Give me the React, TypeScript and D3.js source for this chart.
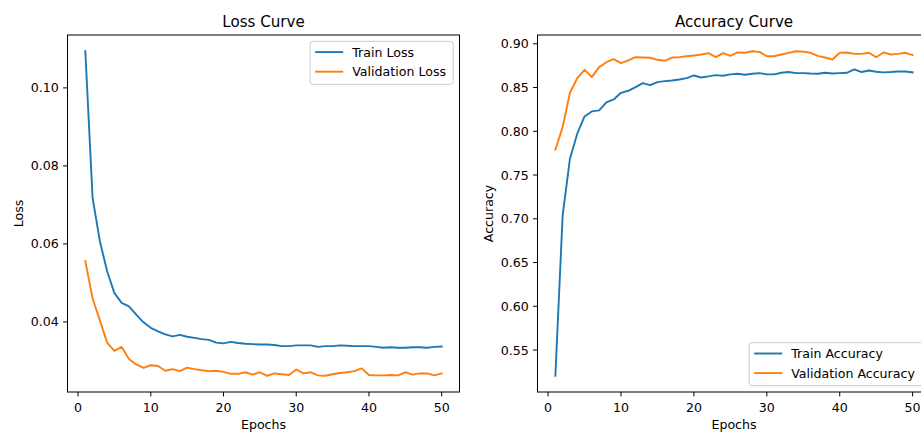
import React from "react";
import * as d3 from "d3";

const epochs: number[] = Array.from({ length: 50 }, (_, i) => i + 1);

const trainLoss: number[] = [
  0.1094, 0.0718, 0.0607, 0.0530, 0.0474, 0.0449, 0.0440, 0.0419, 0.0399, 0.0385,
  0.0376, 0.0368, 0.0363, 0.0367, 0.0362, 0.0359, 0.0356, 0.0354, 0.0347, 0.0345,
  0.0349, 0.0346, 0.0344, 0.0343, 0.0342, 0.0342, 0.0341, 0.0338, 0.0338, 0.0340,
  0.0340, 0.0340, 0.0336, 0.0338, 0.0338, 0.0340, 0.0339, 0.0338, 0.0338, 0.0338,
  0.0336, 0.0334, 0.0335, 0.0334, 0.0334, 0.0335, 0.0335, 0.0334, 0.0336, 0.0337,
];

const valLoss: number[] = [
  0.0556, 0.0460, 0.0404, 0.0347, 0.0326, 0.0336, 0.0305, 0.0291, 0.0282, 0.0289,
  0.0287, 0.0275, 0.0279, 0.0274, 0.0283, 0.0279, 0.0276, 0.0274, 0.0275, 0.0272,
  0.0267, 0.0267, 0.0271, 0.0265, 0.0271, 0.0262, 0.0268, 0.0266, 0.0264, 0.0278,
  0.0268, 0.0271, 0.0263, 0.0262, 0.0266, 0.0269, 0.0271, 0.0274, 0.0281, 0.0264,
  0.0263, 0.0263, 0.0264, 0.0263, 0.0271, 0.0265, 0.0268, 0.0268, 0.0263, 0.0268,
];

const trainAcc: number[] = [
  0.5206, 0.7040, 0.7687, 0.7973, 0.8170, 0.8227, 0.8239, 0.8330, 0.8364, 0.8440,
  0.8463, 0.8505, 0.8550, 0.8527, 0.8562, 0.8573, 0.8581, 0.8592, 0.8607, 0.8638,
  0.8615, 0.8627, 0.8642, 0.8635, 0.8650, 0.8657, 0.8646, 0.8657, 0.8665, 0.8650,
  0.8650, 0.8669, 0.8677, 0.8665, 0.8665, 0.8660, 0.8657, 0.8669, 0.8660, 0.8665,
  0.8669, 0.8707, 0.8677, 0.8695, 0.8680, 0.8673, 0.8677, 0.8684, 0.8684, 0.8673,
];

const valAcc: number[] = [
  0.7790, 0.8048, 0.8440, 0.8607, 0.8703, 0.8619, 0.8733, 0.8790, 0.8824, 0.8779,
  0.8810, 0.8847, 0.8843, 0.8840, 0.8817, 0.8806, 0.8843, 0.8847, 0.8858, 0.8866,
  0.8878, 0.8893, 0.8847, 0.8893, 0.8862, 0.8901, 0.8897, 0.8915, 0.8908, 0.8858,
  0.8858, 0.8878, 0.8897, 0.8915, 0.8910, 0.8897, 0.8862, 0.8843, 0.8820, 0.8897,
  0.8901, 0.8885, 0.8885, 0.8897, 0.8847, 0.8901, 0.8878, 0.8885, 0.8897, 0.8870,
];

const xTicks: number[] = [0, 10, 20, 30, 40, 50];
const lossTicks: number[] = [0.04, 0.06, 0.08, 0.10];
const accTicks: number[] = [0.55, 0.6, 0.65, 0.7, 0.75, 0.8, 0.85, 0.9];

const BLUE = "#1f77b4";
const ORANGE = "#ff7f0e";
const FONT = "DejaVu Sans";
const FS = 12.6;

function padDomain(vals: number[]): [number, number] {
  const [mn, mx] = d3.extent(vals) as [number, number];
  const r = mx - mn;
  return [mn - 0.05 * r, mx + 0.05 * r];
}

type Series = { name: string; values: number[]; color: string };

function Panel(props: {
  x0: number; x1: number; y0: number; y1: number;
  title: string; ylabel: string; yTicks: number[];
  series: Series[]; legend: "upper" | "lower"; ylabelX: number;
}) {
  const { x0, x1, y0, y1, title, ylabel, yTicks, series, legend, ylabelX } = props;
  const xs = d3.scaleLinear().domain(padDomain(epochs)).range([x0, x1]);
  const all = series.flatMap((s) => s.values);
  const ys = d3.scaleLinear().domain(padDomain(all)).range([y1, y0]);
  const line = d3.line<number>().x((_, i) => xs(epochs[i])).y((d) => ys(d));
  const fmt = d3.format(".2f");
  const legW = legend === "upper" ? 143 : 175;
  const legH = 43;
  const legX = x1 - 6.3 - legW;
  const legY = legend === "upper" ? y0 + 6.3 : y1 - 6.3 - legH;
  const clipId = "clip" + title.replace(/\s/g, "");
  return (
    <g>
      <defs>
        <clipPath id={clipId}>
          <rect x={x0} y={y0} width={x1 - x0} height={y1 - y0} />
        </clipPath>
      </defs>
      <g clipPath={`url(#${clipId})`}>
        {series.map((s) => (
          <path key={s.name} d={line(s.values) || ""} fill="none" stroke={s.color}
            strokeWidth={1.9} strokeLinejoin="round" strokeLinecap="square" />
        ))}
      </g>
      <rect x={x0} y={y0} width={x1 - x0} height={y1 - y0} fill="none" stroke="#000" strokeWidth={1} />
      {xTicks.map((t) => (
        <g key={"x" + t}>
          <line x1={xs(t)} x2={xs(t)} y1={y1} y2={y1 + 4.4} stroke="#000" strokeWidth={1} />
          <text x={xs(t)} y={y1 + 20} textAnchor="middle" fontSize={FS} fontFamily={FONT} fill="#000">{t}</text>
        </g>
      ))}
      {yTicks.map((t) => (
        <g key={"y" + t}>
          <line x1={x0 - 4.4} x2={x0} y1={ys(t)} y2={ys(t)} stroke="#000" strokeWidth={1} />
          <text x={x0 - 8.8} y={ys(t)} dy="0.36em" textAnchor="end" fontSize={FS} fontFamily={FONT} fill="#000">{fmt(t)}</text>
        </g>
      ))}
      <text x={(x0 + x1) / 2} y={y0 - 7.6} textAnchor="middle" fontSize={15.1} fontFamily={FONT} fill="#000">{title}</text>
      <text x={(x0 + x1) / 2} y={y1 + 37} textAnchor="middle" fontSize={FS} fontFamily={FONT} fill="#000">Epochs</text>
      <text transform={`translate(${ylabelX},${(y0 + y1) / 2}) rotate(-90)`} textAnchor="middle" fontSize={FS} fontFamily={FONT} fill="#000">{ylabel}</text>
      <g>
        <rect x={legX} y={legY} width={legW} height={legH} rx={2.5} fill="#fff" fillOpacity={0.8} stroke="#cccccc" strokeWidth={1} />
        {series.map((s, i) => {
          const ly = legY + 10.8 + i * 19.6;
          return (
            <g key={"l" + s.name}>
              <line x1={legX + 5} x2={legX + 33} y1={ly} y2={ly} stroke={s.color} strokeWidth={1.9} />
              <text x={legX + 42} y={ly} dy="0.36em" fontSize={FS} fontFamily={FONT} fill="#000">{s.name}</text>
            </g>
          );
        })}
      </g>
    </g>
  );
}

export default function App() {
  return (
    <svg width={921} height={433} style={{ position: "absolute", left: 0, top: 0, background: "#fff" }}>
      <rect x={0} y={0} width={921} height={433} fill="#fff" />
      <Panel x0={67.5} x1={459.5} y0={35} y1={392} title="Loss Curve" ylabel="Loss"
        yTicks={lossTicks} legend="upper" ylabelX={22.5}
        series={[{ name: "Train Loss", values: trainLoss, color: BLUE }, { name: "Validation Loss", values: valLoss, color: ORANGE }]} />
      <Panel x0={537.5} x1={930.5} y0={35} y1={392} title="Accuracy Curve" ylabel="Accuracy"
        yTicks={accTicks} legend="lower" ylabelX={492.5}
        series={[{ name: "Train Accuracy", values: trainAcc, color: BLUE }, { name: "Validation Accuracy", values: valAcc, color: ORANGE }]} />
    </svg>
  );
}
